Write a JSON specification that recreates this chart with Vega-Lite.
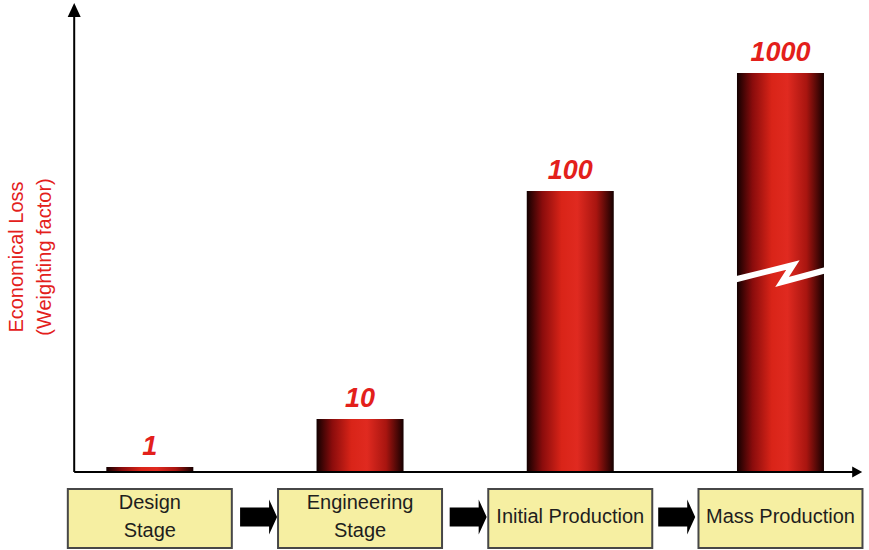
{
  "$schema": "https://vega.github.io/schema/vega-lite/v6.json",
  "width": 869,
  "height": 550,
  "padding": 0,
  "autosize": "none",
  "background": "white",
  "config": {"view": {"stroke": null}},
  "data": {"values": [
    {"stage": "Design\nStage", "lines": 2, "pos": 0, "loss": "1", "drawn": 5},
    {"stage": "Engineering\nStage", "lines": 2, "pos": 1, "loss": "10", "drawn": 53},
    {"stage": "Initial Production", "lines": 1, "pos": 2, "loss": "100", "drawn": 281},
    {"stage": "Mass Production", "lines": 1, "pos": 3, "loss": "1000", "drawn": 399}
  ]},
  "layer": [
    {
      "mark": {"type": "bar", "width": 87, "color": {"gradient": "linear", "x1": 0, "y1": 0, "x2": 1, "y2": 0, "stops": [
        {"offset": 0, "color": "#120000"},
        {"offset": 0.18, "color": "#8a0c0c"},
        {"offset": 0.4, "color": "#d92418"},
        {"offset": 0.58, "color": "#e02a20"},
        {"offset": 0.8, "color": "#a81510"},
        {"offset": 1, "color": "#160000"}
      ]}},
      "encoding": {
        "x": {"field": "pos", "type": "quantitative", "scale": {"domain": [-0.6889, 3.3973], "nice": false, "zero": false}, "axis": null},
        "y": {"field": "drawn", "type": "quantitative", "scale": {"domain": [-78, 472], "nice": false, "zero": false}, "axis": null}
      }
    },
    {
      "data": {"values": [{"pos": 3}]},
      "mark": {"type": "point", "shape": "M-0.95,0.12 L0.25,-0.18 L0.03,0.16 L0.99,-0.1", "size": 10000, "filled": false, "stroke": "white", "strokeWidth": 6, "strokeJoin": "miter", "opacity": 1},
      "encoding": {
        "x": {"field": "pos", "type": "quantitative"},
        "y": {"datum": 198}
      }
    },
    {
      "mark": {"type": "text", "font": "Liberation Sans", "fontSize": 27, "fontWeight": "bold", "fontStyle": "italic", "color": "#e3201b", "baseline": "alphabetic", "align": "center", "dy": -12},
      "encoding": {
        "x": {"field": "pos", "type": "quantitative"},
        "y": {"field": "drawn", "type": "quantitative"},
        "text": {"field": "loss"}
      }
    },
    {
      "data": {"values": [{}]},
      "mark": {"type": "rule", "color": "black", "strokeWidth": 2},
      "encoding": {
        "x": {"datum": -0.3597},
        "y": {"datum": 0},
        "y2": {"datum": 458}
      }
    },
    {
      "data": {"values": [{}]},
      "mark": {"type": "rule", "color": "black", "strokeWidth": 2},
      "encoding": {
        "x": {"datum": -0.3597},
        "x2": {"datum": 3.35},
        "y": {"datum": 0}
      }
    },
    {
      "data": {"values": [{}]},
      "mark": {"type": "point", "shape": "M0,-1 L0.93,1 L-0.93,1 Z", "size": 196, "filled": true, "color": "black", "opacity": 1},
      "encoding": {
        "x": {"datum": -0.3597},
        "y": {"datum": 462}
      }
    },
    {
      "data": {"values": [{}]},
      "mark": {"type": "point", "shape": "M1,0 L-1,1.1 L-1,-1.1 Z", "size": 100, "filled": true, "color": "black", "opacity": 1},
      "encoding": {
        "x": {"datum": 3.365},
        "y": {"datum": 0}
      }
    },
    {
      "data": {"values": [{"title": "Economical Loss\n(Weighting factor)"}]},
      "mark": {"type": "text", "font": "Liberation Sans", "fontSize": 20, "color": "#e3201b", "angle": 270, "align": "center", "baseline": "middle", "lineBreak": "\n", "lineHeight": 28},
      "encoding": {
        "x": {"datum": -0.634},
        "y": {"datum": 215},
        "text": {"field": "title"}
      }
    },
    {
      "mark": {"type": "bar", "width": 164, "fill": "#f6efa2", "stroke": "#474747", "strokeWidth": 2},
      "encoding": {
        "x": {"field": "pos", "type": "quantitative"},
        "y": {"datum": -17},
        "y2": {"datum": -76}
      }
    },
    {
      "transform": [{"filter": "datum.lines == 2"}],
      "mark": {"type": "text", "font": "Liberation Sans", "fontSize": 20, "color": "#1e1e1e", "align": "center", "baseline": "middle", "lineBreak": "\n", "lineHeight": 28},
      "encoding": {
        "x": {"field": "pos", "type": "quantitative"},
        "y": {"datum": -31},
        "text": {"field": "stage"}
      }
    },
    {
      "transform": [{"filter": "datum.lines == 1"}],
      "mark": {"type": "text", "font": "Liberation Sans", "fontSize": 20, "color": "#1e1e1e", "align": "center", "baseline": "middle"},
      "encoding": {
        "x": {"field": "pos", "type": "quantitative"},
        "y": {"datum": -45},
        "text": {"field": "stage"}
      }
    },
    {
      "data": {"values": [{"pos": 0.515}, {"pos": 1.512}, {"pos": 2.504}]},
      "mark": {"type": "point", "shape": "M-0.9,-0.47 L0.55,-0.47 L0.55,-0.88 L0.95,0 L0.55,0.88 L0.55,0.47 L-0.9,0.47 Z", "size": 1600, "filled": true, "color": "black", "opacity": 1},
      "encoding": {
        "x": {"field": "pos", "type": "quantitative"},
        "y": {"datum": -45}
      }
    }
  ]
}
